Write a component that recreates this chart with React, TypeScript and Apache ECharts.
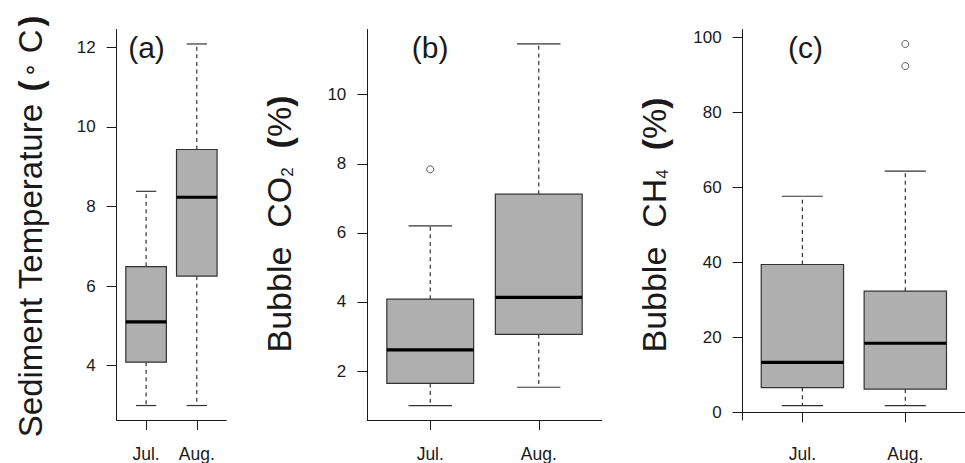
import { useEffect, useRef } from "react";
import * as echarts from "echarts";

const months = ["Jul.", "Aug."];
const panelLabels = ["(a)", "(b)", "(c)"];

// five-number summaries per month: [lower whisker, Q1, median, Q3, upper whisker]
const tempStats = [
  [3.0, 4.09, 5.1, 6.49, 8.38],
  [3.0, 6.25, 8.23, 9.43, 12.08],
];
const co2Stats = [
  [1.0, 1.64, 2.61, 4.08, 6.2],
  [1.53, 3.06, 4.13, 7.12, 11.47],
];
const ch4Stats = [
  [1.8, 6.6, 13.3, 39.4, 57.6],
  [1.8, 6.2, 18.4, 32.3, 64.3],
];

// outliers: [month position (1 = Jul., 2 = Aug.), value]
const tempOutliers: number[][] = [];
const co2Outliers = [[1, 7.84]];
const ch4Outliers = [
  [2, 92.3],
  [2, 98.2],
];

const tempTicks = [4, 6, 8, 10, 12];
const co2Ticks = [2, 4, 6, 8, 10];
const ch4Ticks = [0, 20, 40, 60, 80, 100];
const monthTicks = [1, 2];

const FONT = "'Liberation Sans', Arial, Helvetica, sans-serif";
const INK = "#1a1a1a";
const BOX_FILL = "#afafaf";

function rRange(stats: number[][], outliers: number[][]) {
  const vals: number[] = [];
  stats.forEach((s) => vals.push(...s));
  outliers.forEach((o) => vals.push(o[1]));
  const lo = Math.min(...vals);
  const hi = Math.max(...vals);
  const pad = (hi - lo) * 0.04;
  return [lo - pad, hi + pad];
}

function renderBox(params: any, api: any) {
  const x = api.value(0);
  const lo = api.coord([x, api.value(1)]);
  const q1 = api.coord([x, api.value(2)]);
  const md = api.coord([x, api.value(3)]);
  const q3 = api.coord([x, api.value(4)]);
  const hi = api.coord([x, api.value(5)]);
  const cx = lo[0];
  const half = api.size([0.8, 0])[0] / 2;
  const capHalf = api.size([0.4, 0])[0] / 2;
  const dash = { stroke: "#333", lineWidth: 1.2, lineDash: [4, 3.6], fill: null };
  const solid = { stroke: "#333", lineWidth: 1.2, fill: null };
  return {
    type: "group",
    children: [
      { type: "line", shape: { x1: cx, y1: q3[1], x2: cx, y2: hi[1] }, style: dash },
      { type: "line", shape: { x1: cx, y1: q1[1], x2: cx, y2: lo[1] }, style: dash },
      { type: "line", shape: { x1: cx - capHalf, y1: hi[1], x2: cx + capHalf, y2: hi[1] }, style: solid },
      { type: "line", shape: { x1: cx - capHalf, y1: lo[1], x2: cx + capHalf, y2: lo[1] }, style: solid },
      {
        type: "rect",
        shape: { x: cx - half, y: q3[1], width: half * 2, height: q1[1] - q3[1] },
        style: { fill: BOX_FILL, stroke: "#333", lineWidth: 1.2 },
      },
      {
        type: "line",
        shape: { x1: cx - half, y1: md[1], x2: cx + half, y2: md[1] },
        style: { stroke: "#000", lineWidth: 3.2, fill: null },
      },
    ],
  };
}

export default function App() {
  const ref = useRef<HTMLDivElement>(null);
  useEffect(() => {
    if (!ref.current) return;
    const chart = echarts.init(ref.current, null, { renderer: "svg" });

    const panels = [
      { stats: tempStats, out: tempOutliers, ticks: tempTicks, grid: { left: 116.7, top: 29.5, width: 109.5, height: 391.5 } },
      { stats: co2Stats, out: co2Outliers, ticks: co2Ticks, grid: { left: 367.3, top: 29.5, width: 234.4, height: 391.5 } },
      { stats: ch4Stats, out: ch4Outliers, ticks: ch4Ticks, grid: { left: 742.7, top: 29.5, width: 234.4, height: 391.5 } },
    ];

    const axisLine = { show: true, lineStyle: { color: INK, width: 1 } };

    const option: any = {
      animation: false,
      backgroundColor: "#ffffff",
      grid: panels.map((p) => ({ ...p.grid, containLabel: false })),
      xAxis: panels.map((p, i) => ({
        type: "value",
        gridIndex: i,
        min: 0.42,
        max: 2.58,
        axisLine,
        splitLine: { show: false },
        axisTick: { show: true, customValues: monthTicks, length: 10, lineStyle: { color: INK } },
        axisLabel: {
          show: true,
          customValues: monthTicks,
          formatter: (v: number) => months[Math.round(v) - 1],
          fontSize: 17.5,
          fontFamily: FONT,
          color: INK,
          margin: 25,
        },
      })),
      yAxis: panels.map((p, i) => {
        const [mn, mx] = rRange(p.stats, p.out);
        return {
          type: "value",
          gridIndex: i,
          min: mn,
          max: mx,
          axisLine,
          splitLine: { show: false },
          axisTick: { show: true, customValues: p.ticks, length: 10, lineStyle: { color: INK } },
          axisLabel: {
            show: true,
            customValues: p.ticks,
            fontSize: 17,
            fontFamily: FONT,
            color: INK,
            margin: 21,
          },
        };
      }),
      series: [
        ...panels.map((p, i) => ({
          type: "custom",
          xAxisIndex: i,
          yAxisIndex: i,
          renderItem: renderBox,
          encode: { x: 0, y: [1, 2, 3, 4, 5] },
          data: p.stats.map((s, k) => [monthTicks[k], ...s]),
          silent: true,
        })),
        ...panels.map((p, i) => ({
          type: "scatter",
          xAxisIndex: i,
          yAxisIndex: i,
          symbol: "circle",
          symbolSize: 7,
          itemStyle: { color: "rgba(0,0,0,0)", borderColor: "#333", borderWidth: 1 },
          data: p.out,
          silent: true,
        })),
      ],
      graphic: [
        {
          type: "text",
          x: 30,
          y: 225,
          rotation: Math.PI / 2,
          style: {
            text: "{m|Sediment Temperature }{p|(}{r|∘}{m| C}{p|)}",
            align: "center",
            verticalAlign: "middle",
            fill: INK,
            rich: {
              m: { fontSize: 33, fontFamily: FONT, fill: INK },
              p: { fontSize: 33, fontFamily: FONT, fontWeight: "bold", fill: INK, padding: [0, 3] },
              r: { fontSize: 24, fontFamily: "'DejaVu Sans', sans-serif", fill: INK },
            },
          },
        },
        {
          type: "text",
          x: 279,
          y: 224,
          rotation: Math.PI / 2,
          style: {
            text: "{m|Bubble  CO}{s|2}{m|  }{p|(}{m|%}{p|)}",
            align: "center",
            verticalAlign: "middle",
            fill: INK,
            rich: {
              m: { fontSize: 34, fontFamily: FONT, fill: INK },
              p: { fontSize: 34, fontFamily: FONT, fontWeight: "bold", fill: INK },
              s: { fontSize: 17, fontFamily: FONT, fill: INK, verticalAlign: "bottom" },
            },
          },
        },
        {
          type: "text",
          x: 654,
          y: 225,
          rotation: Math.PI / 2,
          style: {
            text: "{m|Bubble  CH}{s|4}{m|  }{p|(}{m|%}{p|)}",
            align: "center",
            verticalAlign: "middle",
            fill: INK,
            rich: {
              m: { fontSize: 34, fontFamily: FONT, fill: INK },
              p: { fontSize: 34, fontFamily: FONT, fontWeight: "bold", fill: INK },
              s: { fontSize: 17, fontFamily: FONT, fill: INK, verticalAlign: "bottom" },
            },
          },
        },
        ...[146.5, 430.2, 805.6].map((cx, i) => ({
          type: "text",
          x: cx,
          y: 47,
          style: {
            text: panelLabels[i],
            font: `30px ${FONT}`,
            align: "center",
            verticalAlign: "middle",
            fill: INK,
          },
        })),
      ],
    };

    chart.setOption(option);
    return () => chart.dispose();
  }, []);

  return (
    <div
      ref={ref}
      style={{ position: "fixed", left: 0, top: 0, width: 965, height: 463, background: "#fff" }}
    />
  );
}
